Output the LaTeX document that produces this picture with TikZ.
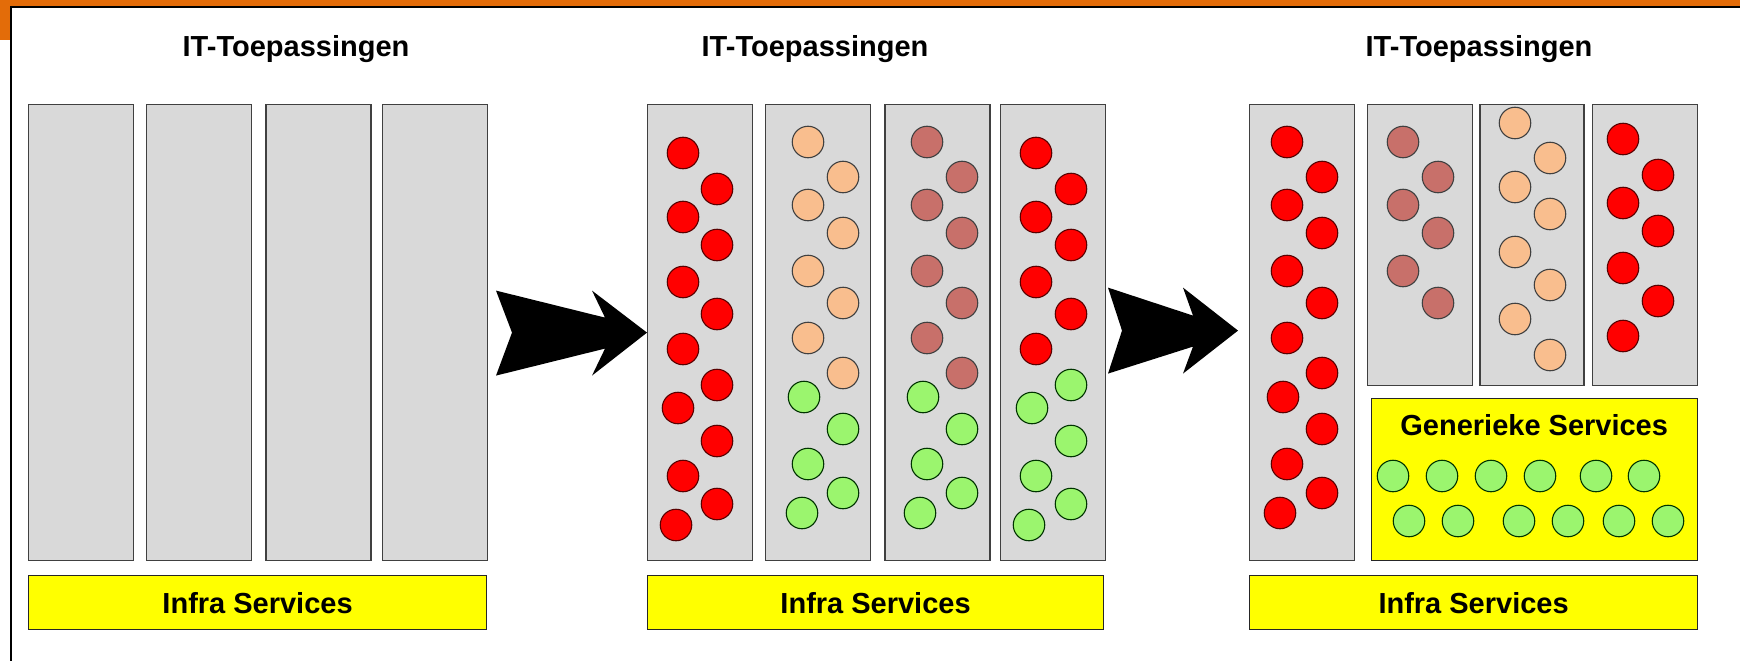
\documentclass[tikz,border=0pt]{standalone}
\usepackage{fontspec}
\setmainfont{Liberation Sans}
\usepackage{tikz}
\usetikzlibrary{positioning}
\definecolor{frameorange}{RGB}{227,108,9}
\definecolor{colgray}{RGB}{217,217,217}
\definecolor{infrayellow}{RGB}{255,255,0}
\definecolor{dotred}{RGB}{255,0,0}
\definecolor{dotpeach}{RGB}{249,190,142}
\definecolor{dotbrown}{RGB}{200,112,106}
\definecolor{dotgreen}{RGB}{155,245,110}
\tikzstyle{column} = [rectangle, draw=black!75, fill=colgray, line width=1.2pt, minimum width=105pt, inner sep=0pt, anchor=north west]
\tikzstyle{servicebar} = [rectangle, draw=black!85, fill=infrayellow, line width=1.2pt, inner sep=0pt, font=\bfseries\fontsize{29}{34}\selectfont]
\tikzstyle{toptitle} = [inner sep=0pt, font=\bfseries\fontsize{29}{34}\selectfont]
\tikzstyle{dot} = [circle, draw=black!75, line width=1.1pt, minimum size=31.5pt, inner sep=0pt]
\tikzstyle{reddot} = [dot, fill=dotred, draw=red!35!black]
\tikzstyle{peachdot} = [dot, fill=dotpeach]
\tikzstyle{browndot} = [dot, fill=dotbrown]
\tikzstyle{greendot} = [dot, fill=dotgreen, draw=green!20!black]

\begin{document}
\begin{tikzpicture}[x=1pt, y=-1pt]
    \useasboundingbox (0,0) rectangle (1740,661);
    % frame
    \fill[frameorange] (0,0) rectangle (1740,6);
    \fill[frameorange] (0,0) rectangle (10,40);
    \draw[line width=1.5pt] (10,6.8) -- (1740,6.8);
    \draw[line width=1.8pt] (11,6) -- (11,661);

    % Place titles
    \node[toptitle, anchor=base] (t1) at (296,57) {IT-Toepassingen};
    \node[toptitle, anchor=base] (t2) at (815,57) {IT-Toepassingen};
    \node[toptitle, anchor=base] (t3) at (1479,57) {IT-Toepassingen};

    % panel 1
    \node[column, minimum height=456pt] (p1a) at (28,104) {};
    \node[column, minimum height=456pt, right=12pt of p1a] (p1b) {};
    \node[column, minimum height=456pt, right=13pt of p1b] (p1c) {};
    \node[column, minimum height=456pt, right=10pt of p1c] (p1d) {};
    \node[servicebar, minimum width=458pt, minimum height=54pt, below=14pt of p1a.south west, anchor=north west] (infra1) {Infra Services};

    % panel 2
    \node[column, minimum height=456pt] (p2a) at (647,104) {};
    \node[column, minimum height=456pt, right=12pt of p2a] (p2b) {};
    \node[column, minimum height=456pt, right=13pt of p2b] (p2c) {};
    \node[column, minimum height=456pt, right=9pt of p2c] (p2d) {};
    \node[servicebar, minimum width=456pt, minimum height=54pt, below=14pt of p2a.south west, anchor=north west] (infra2) {Infra Services};

    % panel 3
    \node[column, minimum height=456pt] (p3a) at (1249,104) {};
    \node[column, minimum height=281pt, right=12pt of p3a.north east, anchor=north west] (p3b) {};
    \node[column, minimum width=104pt, minimum height=281pt, right=6pt of p3b.north east, anchor=north west] (p3c) {};
    \node[column, minimum height=281pt, right=7pt of p3c.north east, anchor=north west] (p3d) {};
    \node[servicebar, minimum width=326pt, minimum height=162pt, below=12pt of p3d.south east, anchor=north east] (generic) {};
    \node[toptitle, below=16pt of generic.north] (generictitle) {Generieke Services};
    \node[servicebar, minimum width=448pt, minimum height=54pt, below=14pt of p3a.south west, anchor=north west] (infra3) {Infra Services};

    % dots panel 2
    \foreach \x/\y [count=\i] in {683/153, 717/189, 683/217, 717/245, 683/282, 717/314, 683/349, 717/385, 678/408, 717/441, 683/476, 717/504, 676/525}
        \node[reddot] (d2a\i) at (\x,\y) {};
    \foreach \x/\y [count=\i] in {808/142, 843/177, 808/205, 843/233, 808/271, 843/303, 808/338, 843/373}
        \node[peachdot] (d2b\i) at (\x,\y) {};
    \foreach \x/\y [count=\i] in {804/397, 843/429, 808/464, 843/493, 802/513}
        \node[greendot] (g2b\i) at (\x,\y) {};
    \foreach \x/\y [count=\i] in {927/142, 962/177, 927/205, 962/233, 927/271, 962/303, 927/338, 962/373}
        \node[browndot] (d2c\i) at (\x,\y) {};
    \foreach \x/\y [count=\i] in {923/397, 962/429, 927/464, 962/493, 920/513}
        \node[greendot] (g2c\i) at (\x,\y) {};
    \foreach \x/\y [count=\i] in {1036/153, 1071/189, 1036/217, 1071/245, 1036/282, 1071/314, 1036/349}
        \node[reddot] (d2d\i) at (\x,\y) {};
    \foreach \x/\y [count=\i] in {1071/385, 1032/408, 1071/441, 1036/476, 1071/504, 1029/525}
        \node[greendot] (g2d\i) at (\x,\y) {};

    % dots panel 3
    \foreach \x/\y [count=\i] in {1287/142, 1322/177, 1287/205, 1322/233, 1287/271, 1322/303, 1287/338, 1322/373, 1283/397, 1322/429, 1287/464, 1322/493, 1280/513}
        \node[reddot] (d3a\i) at (\x,\y) {};
    \foreach \x/\y [count=\i] in {1403/142, 1438/177, 1403/205, 1438/233, 1403/271, 1438/303}
        \node[browndot] (d3b\i) at (\x,\y) {};
    \foreach \x/\y [count=\i] in {1515/123, 1550/158, 1515/187, 1550/214, 1515/252, 1550/285, 1515/319, 1550/355}
        \node[peachdot] (d3c\i) at (\x,\y) {};
    \foreach \x/\y [count=\i] in {1623/139, 1658/175, 1623/203, 1658/231, 1623/268, 1658/301, 1623/336}
        \node[reddot] (d3d\i) at (\x,\y) {};
    \foreach \x/\y [count=\i] in {1393/476, 1442/476, 1491/476, 1540/476, 1596/476, 1644/476, 1409/521, 1458/521, 1519/521, 1568/521, 1619/521, 1668/521}
        \node[greendot] (gs\i) at (\x,\y) {};

    % arrows
    \fill[black, shift={(p2a.west)}] (-151,-42) -- (-42,-15) -- (-55,-42) -- (0,0) -- (-55,43) -- (-42,16) -- (-151,43) -- (-135,0) -- cycle;
    \fill[black, shift={([xshift=-11pt,yshift=2pt]p3a.west)}] (-130,-43) -- (-45,-15) -- (-55,-43) -- (0,0) -- (-55,43) -- (-45,16) -- (-130,43) -- (-116,0) -- cycle;
\end{tikzpicture}
\end{document}
